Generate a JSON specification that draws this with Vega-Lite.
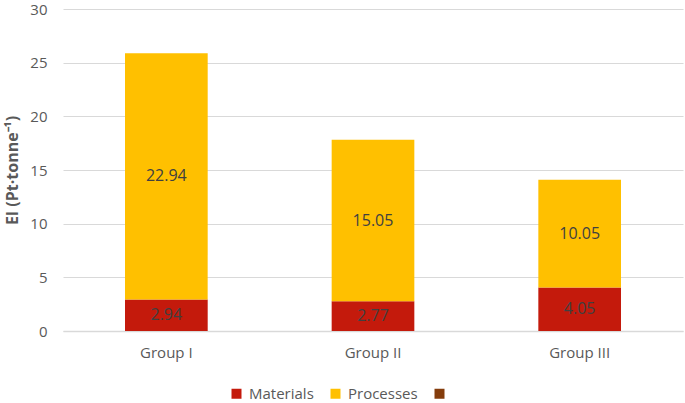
{
  "$schema": "https://vega.github.io/schema/vega-lite/v6.json",
  "autosize": {"type": "none"},
  "width": 620,
  "height": 322,
  "padding": {"left": 63, "top": 9, "right": 2, "bottom": 72},
  "background": "white",
  "config": {
    "view": {"stroke": null},
    "font": "Open Sans"
  },
  "data": {
    "values": [
      {"group": "Group I", "category": "Materials", "value": 2.94, "order": 1},
      {"group": "Group I", "category": "Processes", "value": 22.94, "order": 2},
      {"group": "Group II", "category": "Materials", "value": 2.77, "order": 1},
      {"group": "Group II", "category": "Processes", "value": 15.05, "order": 2},
      {"group": "Group III", "category": "Materials", "value": 4.05, "order": 1},
      {"group": "Group III", "category": "Processes", "value": 10.05, "order": 2}
    ]
  },
  "encoding": {
    "x": {
      "field": "group",
      "type": "nominal",
      "sort": ["Group I", "Group II", "Group III"],
      "scale": {"paddingInner": 0.6, "paddingOuter": 0.3},
      "axis": {
        "title": null,
        "labelAngle": 0,
        "labelFontSize": 15,
        "labelColor": "#595959",
        "labelPadding": 14,
        "ticks": false,
        "domainColor": "#D9D9D9",
        "domainWidth": 1.5
      }
    },
    "y": {
      "field": "value",
      "type": "quantitative",
      "aggregate": "sum",
      "stack": "zero",
      "scale": {"domain": [0, 30], "nice": false},
      "axis": {
        "title": "EI (Pt·tonne⁻¹)",
        "titleFontSize": 16,
        "titleFontWeight": "bold",
        "titleColor": "#595959",
        "titlePadding": 9,
        "values": [0, 5, 10, 15, 20, 25, 30],
        "labelFontSize": 15,
        "labelColor": "#595959",
        "labelPadding": 16,
        "ticks": false,
        "domain": false,
        "gridColor": "#D9D9D9",
        "gridWidth": 1.2
      }
    },
    "order": {"field": "order", "type": "quantitative"}
  },
  "layer": [
    {
      "mark": {"type": "bar"},
      "encoding": {
        "color": {
          "field": "category",
          "type": "nominal",
          "scale": {
            "domain": ["Materials", "Processes", " "],
            "range": ["#C41A0C", "#FFC000", "#843C0C"]
          },
          "legend": {
            "title": null,
            "orient": "none",
            "legendX": 166,
            "legendY": 377,
            "direction": "horizontal",
            "symbolType": "square",
            "symbolSize": 100,
            "symbolStrokeWidth": 0,
            "labelFontSize": 15,
            "labelColor": "#595959",
            "columnPadding": 14,
            "labelOffset": 5
          }
        }
      }
    },
    {
      "mark": {"type": "text", "fontSize": 16, "color": "#404040"},
      "encoding": {
        "y": {
          "field": "value",
          "type": "quantitative",
          "aggregate": "sum",
          "stack": "zero",
          "bandPosition": 0.5
        },
        "text": {"field": "value", "type": "quantitative", "format": ".2f"}
      }
    }
  ]
}
